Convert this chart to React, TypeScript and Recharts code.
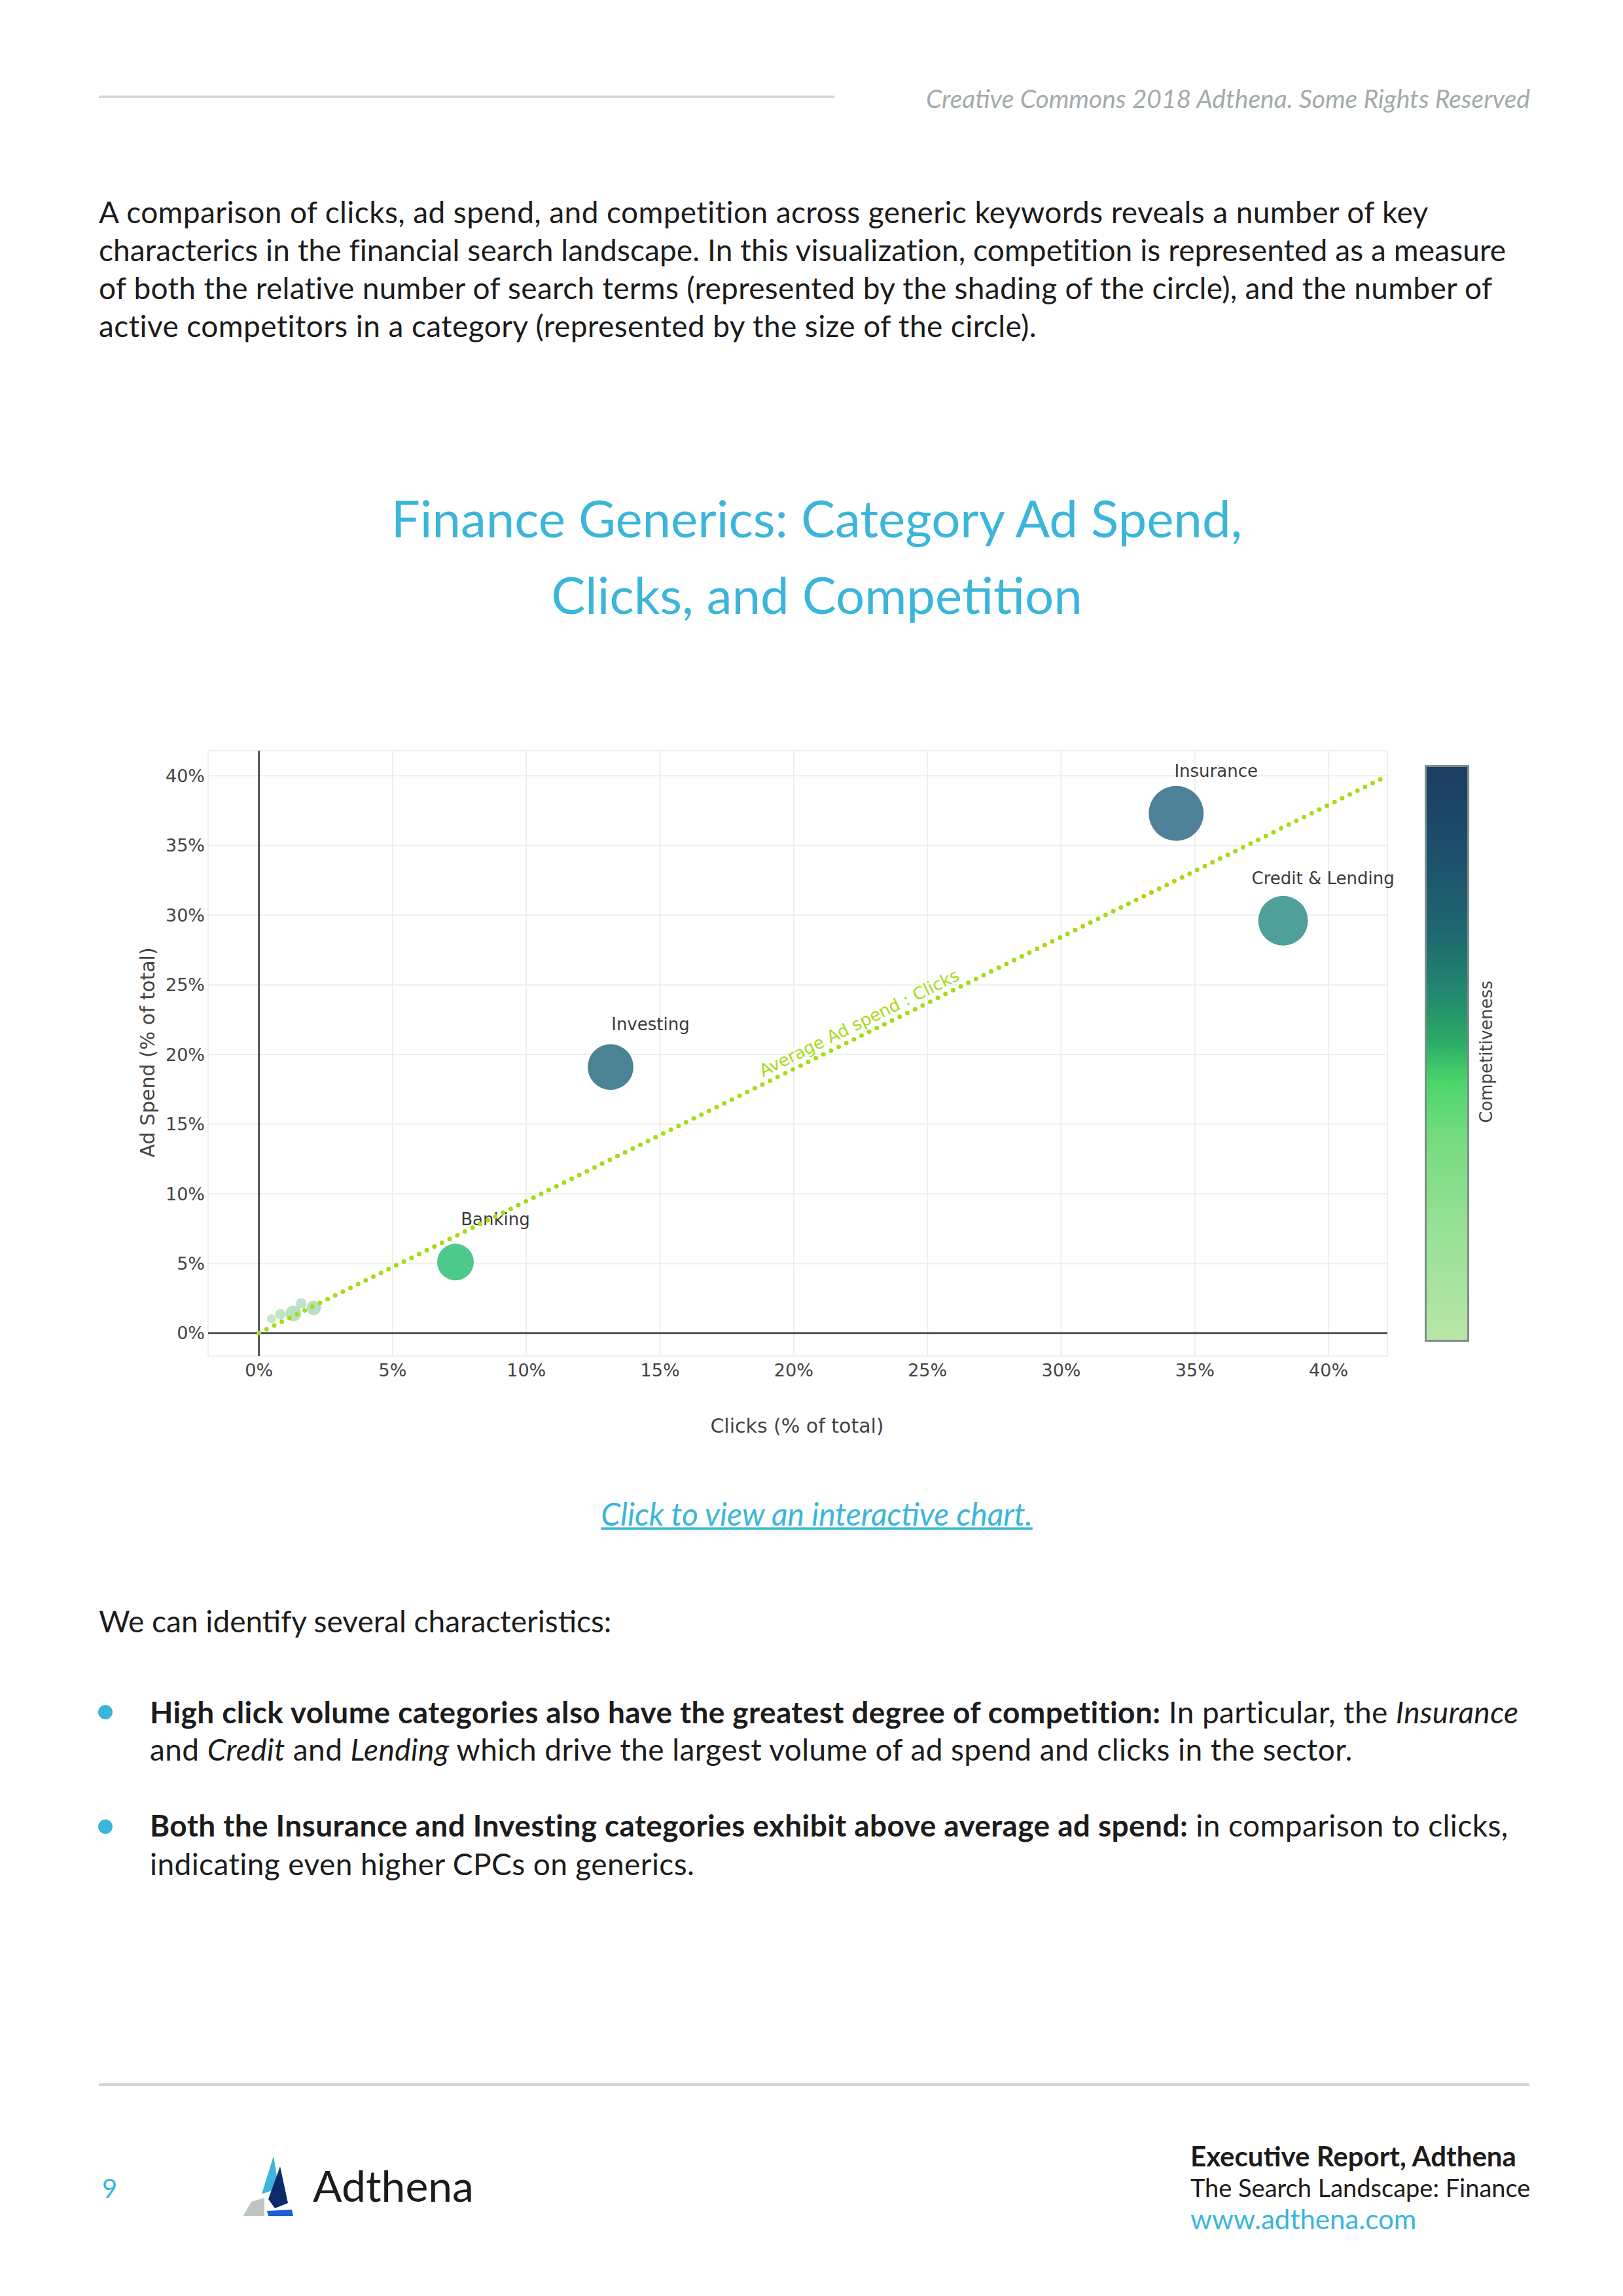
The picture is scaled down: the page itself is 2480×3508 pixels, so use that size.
import React from "react";
import {
  ScatterChart,
  Scatter,
  XAxis,
  YAxis,
  ZAxis,
  CartesianGrid,
  ReferenceLine,
  Cell,
} from "recharts";

// ---------------------- DATA ----------------------
// labelled categories
const categories = ["Insurance", "Credit & Lending", "Investing", "Banking"];
const clicks = [34.3, 38.3, 13.15, 7.35];
const adSpend = [37.3, 29.6, 19.1, 5.1];
const competitors = [88, 72, 61, 39];

// small unlabelled categories near the origin
const minorClicks = [0.47, 0.8, 1.29, 1.58, 2.05];
const minorSpend = [1.03, 1.35, 1.42, 2.13, 1.82];
const minorCompetitors = [2.4, 3.2, 7.2, 3.2, 6.0];

// average ad spend : clicks line
const avgClicks = [0, 42.1];
const avgSpend = [0, 39.9];
const avgLabel = "Average Ad spend : Clicks";
const avgLabelAt = { clicks: 22.45, spend: 22.27 };

const xTicks = [0, 5, 10, 15, 20, 25, 30, 35, 40];
const yTicks = [0, 5, 10, 15, 20, 25, 30, 35, 40];

// ---------------------- STYLE ----------------------
const MAIN_COLORS = ["#4f8199", "#4f9f9a", "#4a8394", "#4cc98b"];
const MINOR_COLORS = ["#b3e0b0", "#a8dcb0", "#a2d8a8", "#a8d8b6", "#9fd3b4"];
const LIME = "#a6dc16";
const CYAN = "#3bb6da";
const CHART_FONT = "'DejaVu Sans', Verdana, sans-serif";
const PAGE_FONT = "Lato, 'Open Sans', sans-serif";

const mainData = categories.map((name, i) => ({
  name,
  x: clicks[i],
  y: adSpend[i],
  z: competitors[i],
}));
const minorData = minorClicks.map((x, i) => ({
  x,
  y: minorSpend[i],
  z: minorCompetitors[i],
}));
const avgData = avgClicks.map((x, i) => ({ x, y: avgSpend[i] }));
const avgLabelData = [{ x: avgLabelAt.clicks, y: avgLabelAt.spend }];

const pct = (v: number) => `${v}%`;

function Bubble(props: any) {
  const { cx, cy, size, width, payload } = props;
  const r = size ? Math.sqrt(size / Math.PI) : width / 2;
  const i = categories.indexOf(payload.name);
  return (
    <g>
      <circle cx={cx} cy={cy} r={r} fill={MAIN_COLORS[i]} />
      <text
        x={cx + 61}
        y={cy - 65}
        textAnchor="middle"
        dominantBaseline="central"
        fontFamily={CHART_FONT}
        fontSize={26}
        fill="#3a3a3a"
      >
        {payload.name}
      </text>
    </g>
  );
}

function AvgText(props: any) {
  const { cx, cy } = props;
  return (
    <text
      x={cx}
      y={cy}
      transform={`rotate(-26.3 ${cx} ${cy})`}
      textAnchor="middle"
      dominantBaseline="central"
      fontFamily={CHART_FONT}
      fontSize={26}
      fill={LIME}
    >
      {avgLabel}
    </text>
  );
}

const tickStyle = { fontSize: 27, fill: "#444", fontFamily: CHART_FONT };

function BubbleChart() {
  return (
    <ScatterChart
      width={2480}
      height={1200}
      margin={{ top: 47, right: 360, bottom: 168, left: 188 }}
    >
      <CartesianGrid stroke="#eeeeee" strokeWidth={2} />
      <XAxis
        type="number"
        dataKey="x"
        domain={[-1.9, 42.2]}
        ticks={xTicks}
        tickFormatter={pct}
        axisLine={false}
        tickLine={false}
        tickSize={0}
        tickMargin={12}
        height={60}
        tick={tickStyle}
      />
      <YAxis
        type="number"
        dataKey="y"
        domain={[-1.65, 41.8]}
        ticks={yTicks}
        tickFormatter={pct}
        axisLine={false}
        tickLine={false}
        tickSize={0}
        tickMargin={5}
        width={130}
        tick={tickStyle}
      />
      <ZAxis type="number" dataKey="z" domain={[0, 88]} range={[0, Math.PI * 42 * 42]} />
      <ReferenceLine x={0} stroke="#4a5656" strokeWidth={3} />
      <ReferenceLine y={0} stroke="#4a5656" strokeWidth={3} />
      <Scatter data={minorData} isAnimationActive={false}>
        {minorData.map((_, i) => (
          <Cell key={i} fill={MINOR_COLORS[i]} fillOpacity={0.75} />
        ))}
      </Scatter>
      <Scatter data={mainData} shape={Bubble} isAnimationActive={false} />
      <Scatter
        data={avgData}
        line={{ stroke: LIME, strokeWidth: 7, strokeDasharray: "0 13", strokeLinecap: "round" }}
        shape={() => <g />}
        isAnimationActive={false}
      />
      <Scatter data={avgLabelData} shape={AvgText} isAnimationActive={false} />
    </ScatterChart>
  );
}

const abs = (left: number, top: number, extra: React.CSSProperties = {}): React.CSSProperties => ({
  position: "absolute",
  left,
  top,
  transform: "translateY(-50%)",
  whiteSpace: "nowrap",
  ...extra,
});

const bodyText: React.CSSProperties = {
  fontSize: 46,
  letterSpacing: 0.4,
  color: "#1c1c1c",
  fontWeight: 400,
};

function Logo() {
  return (
    <svg width={100} height={100} style={{ position: "absolute", left: 360, top: 3286 }}>
      <polygon points="58,8 66,58 40,66" fill="#3bb6da" />
      <polygon points="68,24 80,80 60,88 50,74" fill="#0d2b6b" />
      <polygon points="24,78 44,72 44,112 8,106" fill="#bcc5c2" />
      <polygon points="48,92 86,90 88,100 50,100" fill="#1d5fd8" />
    </svg>
  );
}

export default function App() {
  return (
    <div
      style={{
        position: "absolute",
        left: 0,
        top: 0,
        width: 2480,
        height: 3508,
        background: "#fff",
        fontFamily: PAGE_FONT,
        overflow: "hidden",
      }}
    >
      {/* header */}
      <div style={{ position: "absolute", left: 151, top: 146, width: 1124, height: 4, background: "#d2d5d6" }} />
      <div
        style={{
          position: "absolute",
          right: 2480 - 2338,
          top: 150,
          transform: "translateY(-50%)",
          fontSize: 39,
          fontStyle: "italic",
          color: "#a3abab",
          whiteSpace: "nowrap",
        }}
      >
        Creative Commons 2018 Adthena. Some Rights Reserved
      </div>

      {/* intro paragraph */}
      <div style={abs(151, 323, bodyText)}>
        A comparison of clicks, ad spend, and competition across generic keywords reveals a number of key
      </div>
      <div style={abs(151, 381, { ...bodyText, letterSpacing: 0.1 })}>
        characterics in the financial search landscape. In this visualization, competition is represented as a measure
      </div>
      <div style={abs(151, 439, { ...bodyText, letterSpacing: 0.3 })}>
        of both the relative number of search terms (represented by the shading of the circle), and the number of
      </div>
      <div style={abs(151, 497, bodyText)}>
        active competitors in a category (represented by the size of the circle).
      </div>

      {/* title */}
      <div
        style={{
          position: "absolute",
          left: 0,
          width: 2496,
          top: 733,
          textAlign: "center",
          fontSize: 78,
          lineHeight: "117px",
          color: CYAN,
        }}
      >
        Finance Generics: Category Ad Spend,
        <br />
        Clicks, and Competition
      </div>

      {/* chart */}
      <div style={{ position: "absolute", left: 0, top: 1100, width: 2480, height: 1200 }}>
        <BubbleChart />
      </div>
      <div
        style={{
          position: "absolute",
          left: 225,
          top: 1608,
          transform: "translate(-50%, -50%) rotate(-90deg)",
          fontFamily: CHART_FONT,
          fontSize: 30,
          color: "#444",
          whiteSpace: "nowrap",
        }}
      >
        Ad Spend (% of total)
      </div>
      <div
        style={{
          position: "absolute",
          left: 1218,
          top: 2178,
          transform: "translate(-50%, -50%)",
          fontFamily: CHART_FONT,
          fontSize: 30,
          color: "#444",
          whiteSpace: "nowrap",
        }}
      >
        Clicks (% of total)
      </div>
      <div
        style={{
          position: "absolute",
          left: 2177,
          top: 1169,
          width: 68,
          height: 881,
          boxSizing: "border-box",
          border: "3px solid #7d8c88",
          background:
            "linear-gradient(to bottom, #1b3d62 0%, #1d4f6c 15%, #1f6a70 30%, #238a6e 40%, #2bab66 48%, #4cd66a 55%, #76db80 65%, #96e095 80%, #b8e6a8 100%)",
        }}
      />
      <div
        style={{
          position: "absolute",
          left: 2271,
          top: 1607,
          transform: "translate(-50%, -50%) rotate(-90deg)",
          fontFamily: CHART_FONT,
          fontSize: 26,
          color: "#444",
          whiteSpace: "nowrap",
        }}
      >
        Competitiveness
      </div>

      {/* link */}
      <div
        style={{
          position: "absolute",
          left: 0,
          width: 2496,
          top: 2312,
          transform: "translateY(-50%)",
          textAlign: "center",
          fontSize: 48,
          fontStyle: "italic",
          textDecoration: "underline",
          color: CYAN,
        }}
      >
        Click to view an interactive chart.
      </div>

      {/* characteristics */}
      <div style={abs(151, 2476, { ...bodyText, letterSpacing: 0 })}>We can identify several characteristics:</div>

      <div style={{ position: "absolute", left: 150, top: 2605, width: 22, height: 22, borderRadius: 11, background: CYAN }} />
      <div style={abs(229, 2615, bodyText)}>
        <span style={{ fontWeight: 700 }}>High click volume categories also have the greatest degree of competition:</span> In
        particular, the <i>Insurance</i>
      </div>
      <div style={abs(229, 2672, bodyText)}>
        and <i>Credit</i> and <i>Lending</i> which drive the largest volume of ad spend and clicks in the sector.
      </div>

      <div style={{ position: "absolute", left: 150, top: 2780, width: 22, height: 22, borderRadius: 11, background: CYAN }} />
      <div style={abs(229, 2788, bodyText)}>
        <span style={{ fontWeight: 700 }}>Both the Insurance and Investing categories exhibit above average ad spend:</span> in
        comparison to clicks,
      </div>
      <div style={abs(229, 2847, bodyText)}>indicating even higher CPCs on generics.</div>

      {/* footer */}
      <div style={{ position: "absolute", left: 151, top: 3183, width: 2186, height: 4, background: "#d2d5d6" }} />
      <div style={abs(156, 3343, { fontSize: 40, color: CYAN })}>9</div>
      <Logo />
      <div style={abs(478, 3338, { fontSize: 66, color: "#1c1c1c" })}>Adthena</div>
      <div style={abs(1819, 3294, { fontSize: 42, color: "#1c1c1c", fontWeight: 700 })}>Executive Report, Adthena</div>
      <div style={abs(1819, 3342, { fontSize: 38, color: "#1c1c1c" })}>The Search Landscape: Finance</div>
      <div style={abs(1819, 3390, { fontSize: 42, color: CYAN })}>www.adthena.com</div>
    </div>
  );
}
